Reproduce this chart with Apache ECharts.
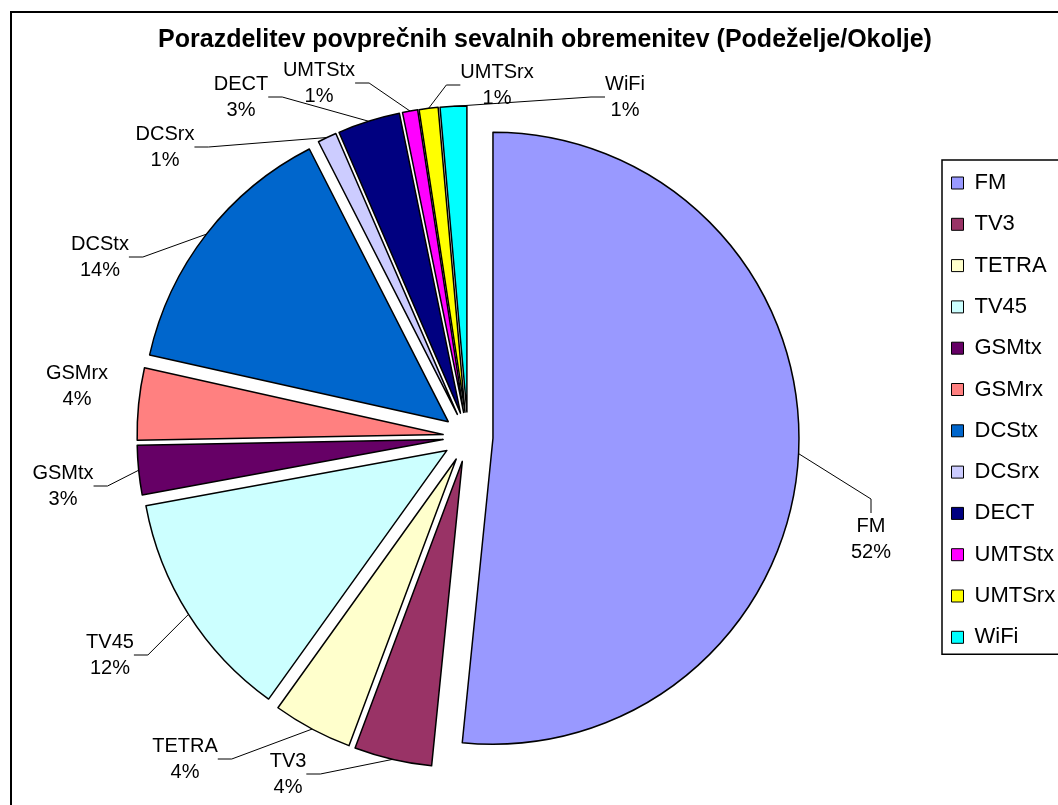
<!DOCTYPE html>
<html>
<head>
<meta charset="utf-8">
<title>Porazdelitev povprečnih sevalnih obremenitev</title>
<script src="https://cdn.jsdelivr.net/npm/echarts@6/dist/echarts.min.js"></script>
<style>
  html, body { margin: 0; padding: 0; background: #fff; overflow: hidden; }
  #chart { width: 1058px; height: 805px; }
</style>
</head>
<body>
<div id="chart"></div>
<script>
const titleText = 'Porazdelitev povprečnih sevalnih obremenitev (Podeželje/Okolje)'

const categories = ['FM', 'TV3', 'TETRA', 'TV45', 'GSMtx', 'GSMrx', 'DCStx', 'DCSrx', 'DECT', 'UMTStx', 'UMTSrx', 'WiFi']
const shares = [51.6, 4.1, 4.2, 12.2, 2.6, 3.8, 14.0, 1.0, 3.3, 0.8, 1.0, 1.4]
const colors = ['#9999FF', '#993366', '#FFFFCC', '#CCFFFF', '#660066', '#FF8080', '#0066CC', '#CCCCFF', '#000080', '#FF00FF', '#FFFF00', '#00FFFF']

// where Excel put each data label (centre of the two-line block)
const labelSpots = [
  [871, 539], [288, 774], [185, 759], [110, 655], [63, 486], [77, 386],
  [100, 257], [165, 147], [241, 97], [319, 83], [497, 85], [625, 97]
]
const noLeader = ['GSMrx']

const pieCenter = [468, 437]
const pieRadius = 306
const explode = 25

const font = '"Liberation Sans", Arial, sans-serif'

const chart = echarts.init(document.getElementById('chart'))

// Excel explodes every slice; draw each slice as its own pie, pushed out along its middle angle
const total = shares.reduce((a, b) => a + b, 0)
let before = 0
const slices = categories.map((owner, k) => {
  const mid = (before + shares[k] / 2) / total * Math.PI * 2
  before += shares[k]
  return {
    type: 'pie',
    name: owner,
    center: [pieCenter[0] + explode * Math.sin(mid), pieCenter[1] - explode * Math.cos(mid)],
    radius: pieRadius,
    startAngle: 90,
    clockwise: true,
    avoidLabelOverlap: false,
    emphasis: { disabled: true },
    label: {
      position: 'outside',
      fontFamily: font,
      fontSize: 20,
      lineHeight: 26,
      color: '#000',
      align: 'center',
      formatter: p => p.name + '\n' + Math.round(p.value) + '%'
    },
    labelLine: {
      length: 12,
      length2: 14,
      lineStyle: { color: '#000', width: 1 }
    },
    labelLayout: p => ({
      x: labelSpots[p.dataIndex][0],
      y: labelSpots[p.dataIndex][1],
      align: 'center',
      verticalAlign: 'middle'
    }),
    data: categories.map((name, i) => {
      const mine = i === k
      return {
        name,
        value: shares[i],
        itemStyle: mine
          ? { color: colors[i], borderColor: '#000', borderWidth: 1.5 }
          : { color: 'rgba(0,0,0,0)', borderWidth: 0 },
        label: { show: mine },
        labelLine: { show: mine && noLeader.indexOf(name) < 0 }
      }
    })
  }
})

chart.setOption({
  animation: false,
  title: {
    text: titleText,
    left: 540,
    top: 23,
    textAlign: 'center',
    textStyle: { fontFamily: font, fontSize: 25, fontWeight: 'bold', color: '#000' }
  },
  legend: {
    orient: 'vertical',
    left: 942,
    top: 160,
    padding: [12, 60, 6, 9],
    itemWidth: 12,
    itemHeight: 12,
    itemGap: 19.3,
    icon: 'rect',
    borderColor: '#000',
    borderWidth: 1.5,
    selectedMode: false,
    textStyle: { fontFamily: font, fontSize: 22, color: '#000', padding: [0, 0, 0, 6] },
    data: categories.map((name, i) => ({
      name,
      itemStyle: { color: colors[i], borderColor: '#000', borderWidth: 1 }
    }))
  },
  graphic: [{
    type: 'rect',
    shape: { x: 11, y: 12, width: 1200, height: 900 },
    style: { fill: 'none', stroke: '#000', lineWidth: 2 },
    silent: true
  }],
  series: slices
})
</script>
</body>
</html>
